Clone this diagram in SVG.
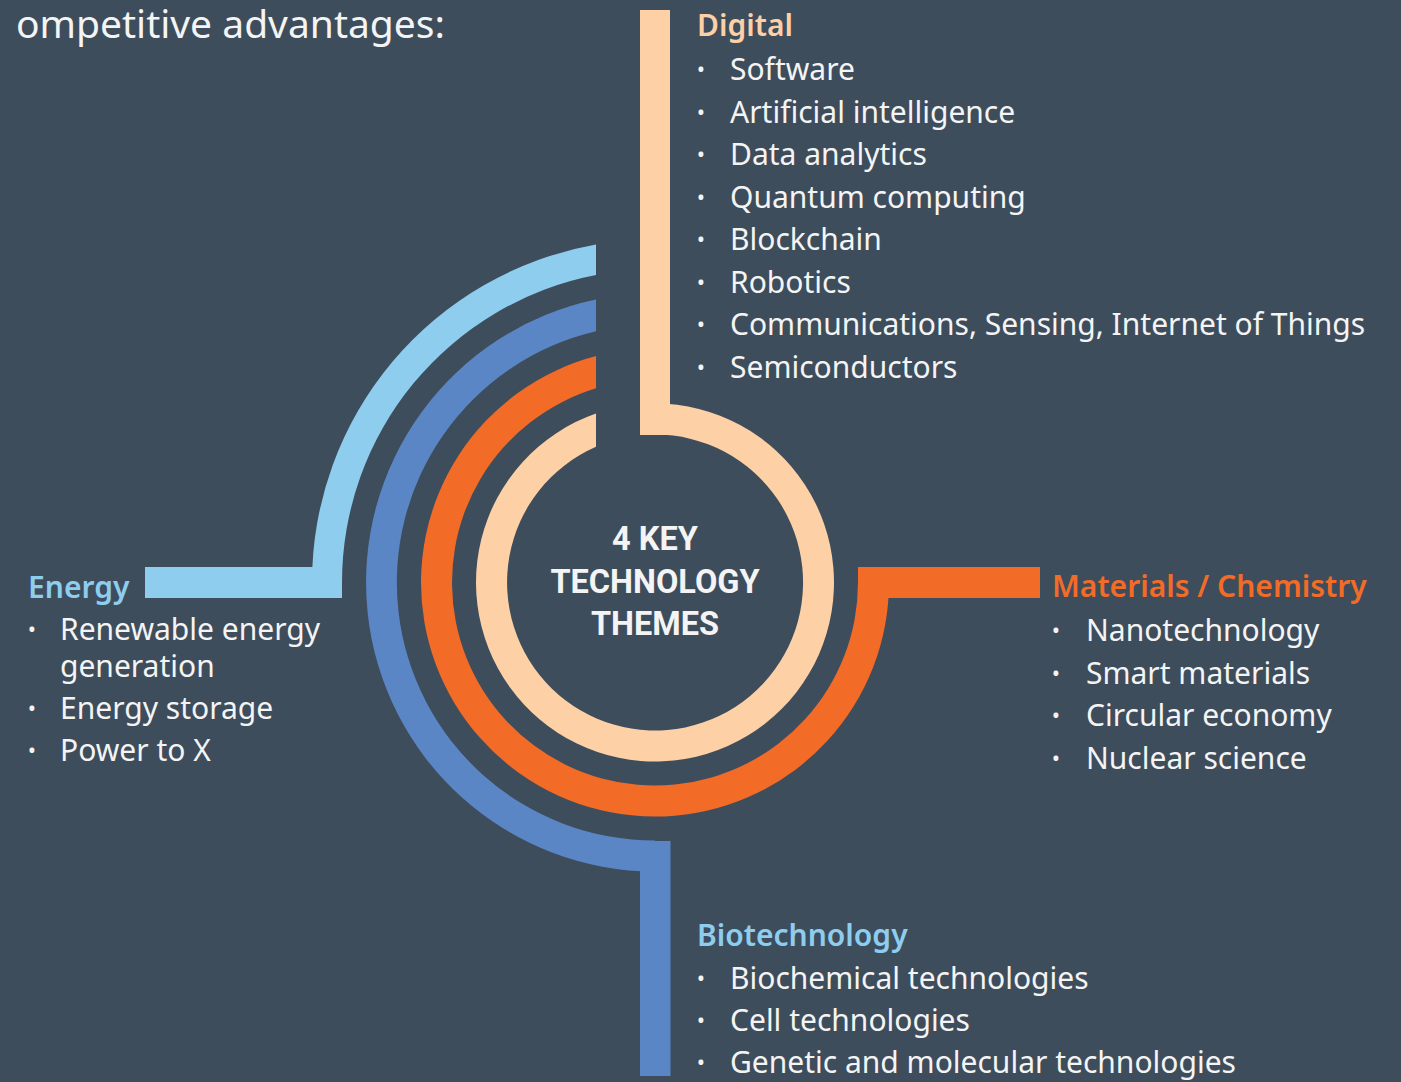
<svg xmlns="http://www.w3.org/2000/svg" width="1401" height="1082" viewBox="0 0 1401 1082">
<style>
.bg{fill:#3e4d5c}
.t{font-family:"Noto Sans","Liberation Sans",sans-serif;font-size:30px;fill:#f4f4f4}
.b{font-family:"Noto Sans","Liberation Sans",sans-serif;font-size:22px;fill:#f4f4f4;text-anchor:middle}
.h{font-family:"Noto Sans","Liberation Sans",sans-serif;font-size:30px;font-weight:600}
.title{font-family:"Noto Sans","Liberation Sans",sans-serif;font-size:39px;fill:#f4f4f4;text-anchor:end}
.c{font-family:Roboto,"Liberation Sans",sans-serif;font-size:32.5px;font-weight:bold;fill:#f4f4f4;text-anchor:middle}
.peach{fill:#fdd0a6}
.orange{fill:#f26b27}
.blue{fill:#5b86c5}
.lblue{fill:#8ecdee}
</style>
<rect class="bg" x="0" y="0" width="1401" height="1082"/>
<text class="title" x="445" y="38">ompetitive advantages:</text>

<g id="connectors">
  <g id="ring-lightblue" class="lblue">
    <path d="M596 244.6 A343 343 0 0 0 312 582.5 L342 582.5 A313 313 0 0 1 596 275.1 Z"/>
    <rect x="145" y="567" width="197" height="31"/>
  </g>
  <g id="ring-blue" class="blue">
    <path d="M596 299.6 A289 289 0 0 0 655 871.5 L655 840.5 A258 258 0 0 1 596 331.3 Z"/>
    <rect x="640" y="841" width="30.5" height="235"/>
  </g>
  <g id="ring-orange" class="orange">
    <path d="M596 356.1 A234 234 0 1 0 889 582.5 L858 582.5 A203 203 0 1 1 596 388.3 Z"/>
    <rect x="858" y="567" width="182" height="31"/>
  </g>
  <g id="ring-peach" class="peach">
    <path d="M655 403.5 A179 179 0 1 1 596 413.5 L596 446.8 A148 148 0 1 0 655 434.5 Z"/>
    <rect x="640" y="10" width="30" height="425"/>
  </g>
</g>

<g id="center">
  <text class="c" x="655" y="550">4 KEY</text>
  <text class="c" x="655" y="593">TECHNOLOGY</text>
  <text class="c" x="655" y="635">THEMES</text>
</g>

<g id="digital">
  <text class="h" x="697" y="36" fill="#fdd0a6">Digital</text>
  <text class="b" x="701" y="77">•</text><text class="t" x="730" y="80">Software</text>
  <text class="b" x="701" y="119.5">•</text><text class="t" x="730" y="122.5">Artificial intelligence</text>
  <text class="b" x="701" y="162">•</text><text class="t" x="730" y="165">Data analytics</text>
  <text class="b" x="701" y="204.5">•</text><text class="t" x="730" y="207.5">Quantum computing</text>
  <text class="b" x="701" y="247">•</text><text class="t" x="730" y="250">Blockchain</text>
  <text class="b" x="701" y="289.5">•</text><text class="t" x="730" y="292.5">Robotics</text>
  <text class="b" x="701" y="332">•</text><text class="t" x="730" y="335">Communications, Sensing, Internet of Things</text>
  <text class="b" x="701" y="374.5">•</text><text class="t" x="730" y="377.5">Semiconductors</text>
</g>

<g id="energy">
  <text class="h" x="28" y="598" fill="#8ecdee">Energy</text>
  <text class="b" x="32" y="637">•</text><text class="t" x="60" y="640">Renewable energy</text>
  <text class="t" x="60" y="677">generation</text>
  <text class="b" x="32" y="715.5">•</text><text class="t" x="60" y="718.5">Energy storage</text>
  <text class="b" x="32" y="758">•</text><text class="t" x="60" y="761">Power to X</text>
</g>

<g id="materials">
  <text class="h" x="1052" y="597" fill="#f26b27">Materials / Chemistry</text>
  <text class="b" x="1056" y="638">•</text><text class="t" x="1086" y="641">Nanotechnology</text>
  <text class="b" x="1056" y="680.5">•</text><text class="t" x="1086" y="683.5">Smart materials</text>
  <text class="b" x="1056" y="723">•</text><text class="t" x="1086" y="726">Circular economy</text>
  <text class="b" x="1056" y="765.5">•</text><text class="t" x="1086" y="768.5">Nuclear science</text>
</g>

<g id="biotechnology">
  <text class="h" x="697" y="946" fill="#8ecdee">Biotechnology</text>
  <text class="b" x="701" y="986">•</text><text class="t" x="730" y="989">Biochemical technologies</text>
  <text class="b" x="701" y="1028">•</text><text class="t" x="730" y="1031">Cell technologies</text>
  <text class="b" x="701" y="1070">•</text><text class="t" x="730" y="1073">Genetic and molecular technologies</text>
</g>
</svg>
